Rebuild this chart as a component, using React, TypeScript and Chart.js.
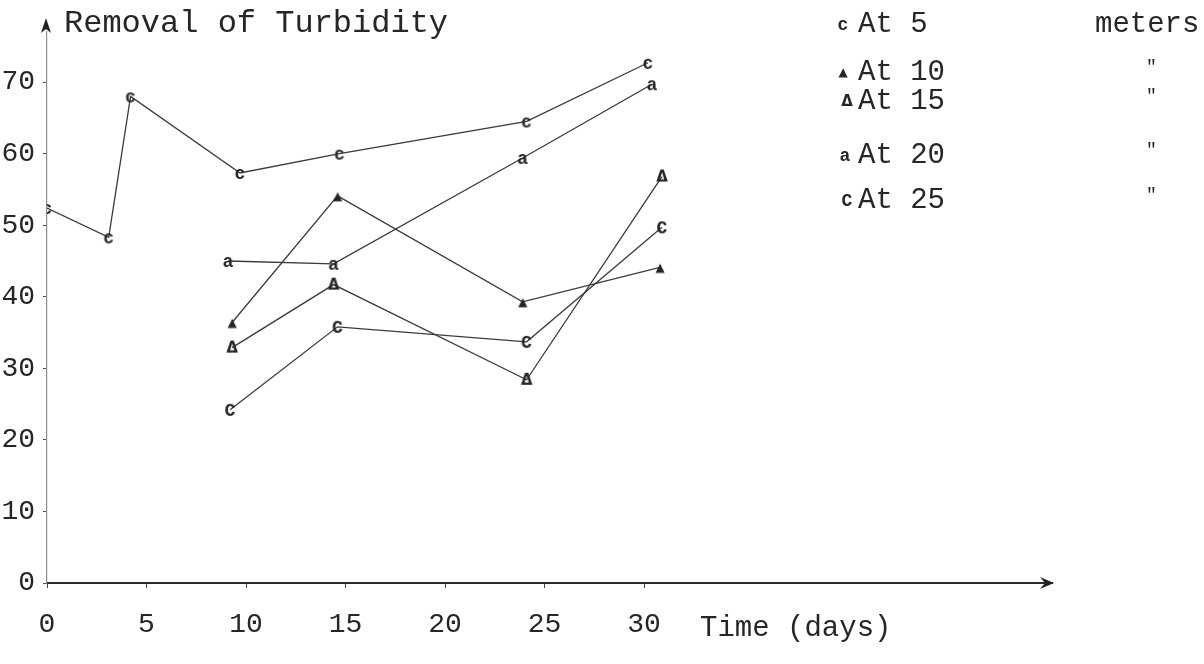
import React, { useEffect, useRef } from 'react';
import { Chart, registerables } from 'chart.js';

Chart.register(...registerables);

// ---- data ----
const chartTitle = 'Removal of Turbidity';
const xAxisTitle = 'Time (days)';
const seriesNames = ['At 5', 'At 10', 'At 15', 'At 20', 'At 25'];
const legendUnit = 'meters';
const dittoMark = '"';
const xTickValues = [0, 5, 10, 15, 20, 25, 30];
const yTickValues = [0, 10, 20, 30, 40, 50, 60, 70];

const days5 = [0, 3.1, 4.2, 9.7, 14.7, 24.1, 30.2];
const removal5 = [52.4, 48.3, 68.0, 57.3, 60.0, 64.5, 72.7];

const days10 = [9.3, 14.6, 23.9, 30.8];
const removal10 = [36.4, 54.1, 39.3, 44.1];

const days15 = [9.3, 14.4, 24.1, 30.9];
const removal15 = [32.9, 41.7, 28.4, 56.8];

const days20 = [9.1, 14.4, 23.9, 30.4];
const removal20 = [45.0, 44.6, 59.4, 69.7];

const days25 = [9.2, 14.6, 24.1, 30.9];
const removal25 = [24.2, 35.8, 33.7, 49.7];

const markerGlyphs = ['c', '\u25B2', '\u0394', 'a', 'C'];

const MONO = '"Liberation Mono", "DejaVu Sans Mono", monospace';
const INK = '#262626';

function makeMarker(glyph: string, font: string): HTMLCanvasElement {
  const c = document.createElement('canvas');
  c.width = 20;
  c.height = 20;
  const g = c.getContext('2d')!;
  g.fillStyle = INK;
  g.font = font;
  g.textAlign = 'center';
  g.textBaseline = 'middle';
  g.fillText(glyph, 10, 11);
  return c;
}

function toPoints(xs: number[], ys: number[]) {
  return xs.map((x, i) => ({ x, y: ys[i] }));
}

export default function App() {
  const ref = useRef<HTMLCanvasElement | null>(null);

  useEffect(() => {
    document.body.style.margin = '0';
    document.body.style.background = '#ffffff';
    const canvas = ref.current!;
    const markers = markerGlyphs.map((g, i) =>
      makeMarker(g, i === 1 ? '12px "DejaVu Sans"' : i === 2 ? 'bold 15px "DejaVu Sans"' : `bold 18px ${MONO}`)
    );
    const allDays = [days5, days10, days15, days20, days25];
    const allVals = [removal5, removal10, removal15, removal20, removal25];

    const datasets = seriesNames.map((name, i) => ({
      label: name,
      data: toPoints(allDays[i], allVals[i]),
      borderColor: '#3a3a3a',
      backgroundColor: '#3a3a3a',
      borderWidth: 1.3,
      pointStyle: markers[i] as any,
      pointRadius: 6,
      showLine: true,
      tension: 0,
    }));

    const decor = {
      id: 'decor',
      afterDraw(chart: any) {
        const { ctx, chartArea: a } = chart;
        ctx.save();
        ctx.fillStyle = INK;
        ctx.textAlign = 'left';
        ctx.textBaseline = 'alphabetic';
        ctx.font = `32px ${MONO}`;
        ctx.fillText(chartTitle, 64, 32);
        ctx.font = `29px ${MONO}`;
        ctx.fillText(xAxisTitle, 700, 636);

        // legend
        const rowsY = [32, 80, 109, 163, 208];
        const markerX = [843, 843, 847, 845, 847];
        seriesNames.forEach((name, i) => {
          ctx.font = `29px ${MONO}`;
          ctx.fillStyle = INK;
          ctx.fillText(name, 858, rowsY[i]);
          if (i === 0) {
            ctx.fillText(legendUnit, 1095, rowsY[i]);
          } else {
            ctx.font = `18px ${MONO}`;
            ctx.fillText(dittoMark, 1146, rowsY[i] - 8);
          }
          ctx.drawImage(markers[i], markerX[i] - 10, rowsY[i] - 18);
        });

        // arrow heads
        ctx.fillStyle = '#222';
        ctx.beginPath();
        ctx.moveTo(a.right + 2, a.bottom);
        ctx.lineTo(a.right - 12, a.bottom - 6);
        ctx.lineTo(a.right - 7, a.bottom);
        ctx.lineTo(a.right - 12, a.bottom + 6);
        ctx.closePath();
        ctx.fill();
        ctx.beginPath();
        ctx.moveTo(a.left - 1, a.top - 14);
        ctx.lineTo(a.left - 6, a.top + 1);
        ctx.lineTo(a.left - 1, a.top - 3);
        ctx.lineTo(a.left + 4, a.top + 1);
        ctx.closePath();
        ctx.fill();
        ctx.restore();
      },
    };

    const chart = new Chart(canvas, {
      type: 'scatter',
      data: { datasets },
      options: {
        responsive: false,
        animation: false,
        layout: { padding: { left: 0, top: 32, right: 152, bottom: 0 } },
        plugins: {
          legend: { display: false },
          tooltip: { enabled: false },
          title: { display: false },
        },
        scales: {
          x: {
            type: 'linear',
            min: 0,
            max: 50.5,
            afterFit: (s: any) => {
              s.height = 81;
            },
            afterBuildTicks: (s: any) => {
              s.ticks = xTickValues.map((v) => ({ value: v }));
            },
            border: { display: true, color: '#2a2a2a', width: 2 },
            grid: {
              display: true,
              drawOnChartArea: false,
              drawTicks: true,
              tickLength: 5,
              color: '#444',
            },
            ticks: {
              color: INK,
              padding: 20,
              maxRotation: 0,
              autoSkip: false,
              font: { family: MONO, size: 28 },
              callback: (v: any) => String(v),
            },
          },
          y: {
            type: 'linear',
            min: 0,
            max: 77,
            afterFit: (s: any) => {
              s.width = 47;
            },
            afterBuildTicks: (s: any) => {
              s.ticks = yTickValues.map((v) => ({ value: v }));
            },
            border: { display: true, color: '#8a8a8a', width: 1.2, dash: [2, 2] },
            grid: {
              display: true,
              drawOnChartArea: false,
              drawTicks: true,
              tickLength: 4,
              color: '#555',
            },
            ticks: {
              color: INK,
              padding: 8,
              autoSkip: false,
              font: { family: MONO, size: 28 },
              callback: (v: any) => String(v),
            },
          },
        },
      },
      plugins: [decor],
    });
    return () => chart.destroy();
  }, []);

  return (
    <div style={{ position: 'absolute', left: 0, top: 0, width: 1204, height: 664, background: '#fff' }}>
      <canvas ref={ref} width={1204} height={664} />
    </div>
  );
}
